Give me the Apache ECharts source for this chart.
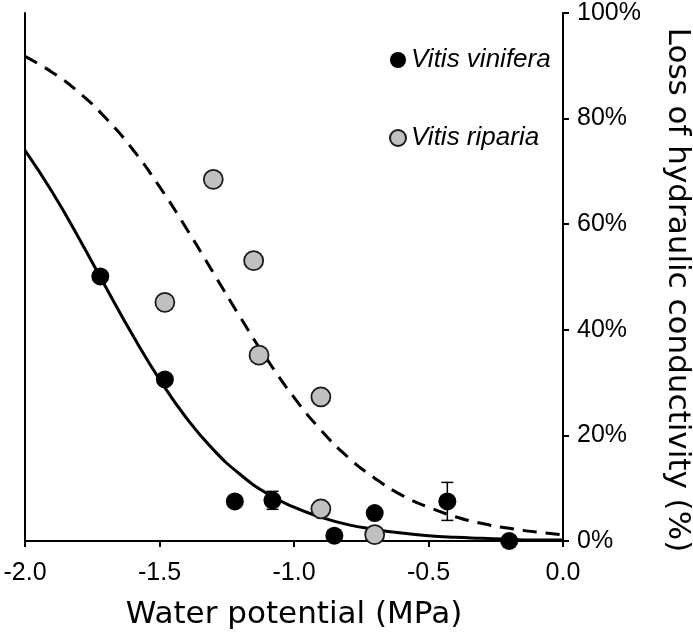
<!DOCTYPE html>
<html>
<head>
<meta charset="utf-8">
<script src="https://cdn.jsdelivr.net/npm/echarts@6/dist/echarts.min.js"></script>
<style>
html,body{margin:0;padding:0;background:#fff;}
#chart{width:693px;height:635px;}
</style>
</head>
<body>
<div id="chart"></div>
<script>
// ---- data ----
const seriesNames = ['Vitis vinifera', 'Vitis riparia'];
const xTickValues = [-2.0, -1.5, -1.0, -0.5, 0.0];
const yTickValues = [0, 20, 40, 60, 80, 100];

const viniferaX = [-1.72, -1.48, -1.22, -1.08, -0.85, -0.70, -0.43, -0.20];
const viniferaY = [50.1, 30.6, 7.5, 7.7, 1.0, 5.3, 7.5, 0.0];

const ripariaX = [-1.30, -1.15, -1.48, -1.13, -0.90, -0.90, -0.70];
const ripariaY = [68.5, 53.1, 45.2, 35.2, 27.3, 6.1, 1.2];

const errX = [-1.08, -0.43];
const errLow = [6.0, 3.9];
const errHigh = [9.4, 11.1];

const curveX = [-2.0, -1.9, -1.8, -1.7, -1.6, -1.5, -1.4, -1.3, -1.2, -1.1, -1.0,
                -0.9, -0.8, -0.7, -0.6, -0.5, -0.4, -0.3, -0.2, -0.1, 0.0];
const viniferaCurve = [74.0, 66.2, 57.4, 48.1, 39.0, 30.6, 23.3, 17.3, 12.6, 9.0, 6.4,
                       4.5, 3.1, 2.2, 1.5, 1.0, 0.7, 0.5, 0.3, 0.2, 0.2];
const ripariaCurve = [91.8, 88.8, 85.0, 80.1, 74.2, 67.1, 59.2, 50.8, 42.4, 34.4, 27.2,
                      21.0, 15.9, 11.9, 8.7, 6.4, 4.6, 3.3, 2.4, 1.7, 1.2];

const xTitle = 'Water potential (MPa)';
const yTitle = 'Loss of hydraulic conductivity (%)';

// ---- build ----
const zip = (a, b) => a.map((v, i) => [v, b[i]]);
const chart = echarts.init(document.getElementById('chart'), null, {renderer: 'canvas'});

const option = {
  animation: false,
  backgroundColor: '#fff',
  grid: {left: 25, right: 130, top: 13, bottom: 92, containLabel: false},
  legend: {
    orient: 'vertical',
    left: 384,
    top: 42,
    itemGap: 52,
    itemWidth: 16,
    itemHeight: 16,
    icon: 'circle',
    data: seriesNames,
    textStyle: {fontFamily: 'Liberation Sans', fontStyle: 'italic', fontSize: 26, color: '#000'}
  },
  xAxis: [{
    type: 'value', min: -2, max: 0, interval: 0.5, position: 'bottom',
    axisLine: {show: true, onZero: false, lineStyle: {color: '#000', width: 2}},
    axisTick: {show: true, length: 6, lineStyle: {color: '#000', width: 2}},
    axisLabel: {
      margin: 20, fontFamily: 'Liberation Sans', fontSize: 25, color: '#000',
      formatter: v => xTickValues.find(t => Math.abs(t - v) < 1e-9).toFixed(1)
    },
    splitLine: {show: false},
    name: xTitle, nameLocation: 'middle', nameGap: 58,
    nameTextStyle: {fontFamily: 'DejaVu Sans', fontSize: 31, color: '#000'}
  }],
  yAxis: [{
    type: 'value', min: 0, max: 100, interval: 20, position: 'right',
    axisLine: {show: true, onZero: false, lineStyle: {color: '#000', width: 2}},
    axisTick: {show: true, length: 6, lineStyle: {color: '#000', width: 2}},
    axisLabel: {
      margin: 14, fontFamily: 'Liberation Sans', fontSize: 25, color: '#000',
      formatter: v => yTickValues.find(t => Math.abs(t - v) < 1e-9) + '%'
    },
    splitLine: {show: false}
  }, {
    type: 'value', min: 0, max: 100, position: 'left',
    axisLine: {show: true, onZero: false, lineStyle: {color: '#000', width: 2}},
    axisTick: {show: false}, axisLabel: {show: false}, splitLine: {show: false}
  }],
  graphic: [{
    type: 'text',
    x: 677, y: 290,
    rotation: -Math.PI / 2,
    style: {
      text: yTitle, fontFamily: 'DejaVu Sans', fontSize: 31, fill: '#000',
      textAlign: 'center', textVerticalAlign: 'middle'
    }
  }],
  series: [
    {
      name: 'riparia fit', type: 'line', data: zip(curveX, ripariaCurve),
      smooth: true, showSymbol: false, z: 1,
      lineStyle: {color: '#000', width: 3, type: [14, 9]}
    },
    {
      name: 'vinifera fit', type: 'line', data: zip(curveX, viniferaCurve),
      smooth: true, showSymbol: false, z: 1,
      lineStyle: {color: '#000', width: 3}
    },
    {
      name: 'errors', type: 'custom', z: 2,
      data: errX.map((x, i) => [x, errLow[i], errHigh[i]]),
      renderItem: function (params, api) {
        const lo = api.coord([api.value(0), api.value(1)]);
        const hi = api.coord([api.value(0), api.value(2)]);
        const hw = 6;
        const st = {stroke: '#000', lineWidth: 1.5};
        return {
          type: 'group',
          children: [
            {type: 'line', shape: {x1: lo[0], y1: lo[1], x2: hi[0], y2: hi[1]}, style: st},
            {type: 'line', shape: {x1: lo[0] - hw, y1: lo[1], x2: lo[0] + hw, y2: lo[1]}, style: st},
            {type: 'line', shape: {x1: hi[0] - hw, y1: hi[1], x2: hi[0] + hw, y2: hi[1]}, style: st}
          ]
        };
      }
    },
    {
      name: seriesNames[1], type: 'scatter', data: zip(ripariaX, ripariaY), z: 3,
      symbol: 'circle', symbolSize: 19,
      itemStyle: {color: '#c0c0c0', borderColor: '#1a1a1a', borderWidth: 1.8, opacity: 1}
    },
    {
      name: seriesNames[0], type: 'scatter', data: zip(viniferaX, viniferaY), z: 4,
      symbol: 'circle', symbolSize: 18,
      itemStyle: {color: '#000', borderColor: '#000', borderWidth: 0, opacity: 1}
    }
  ]
};
chart.setOption(option);
</script>
</body>
</html>
